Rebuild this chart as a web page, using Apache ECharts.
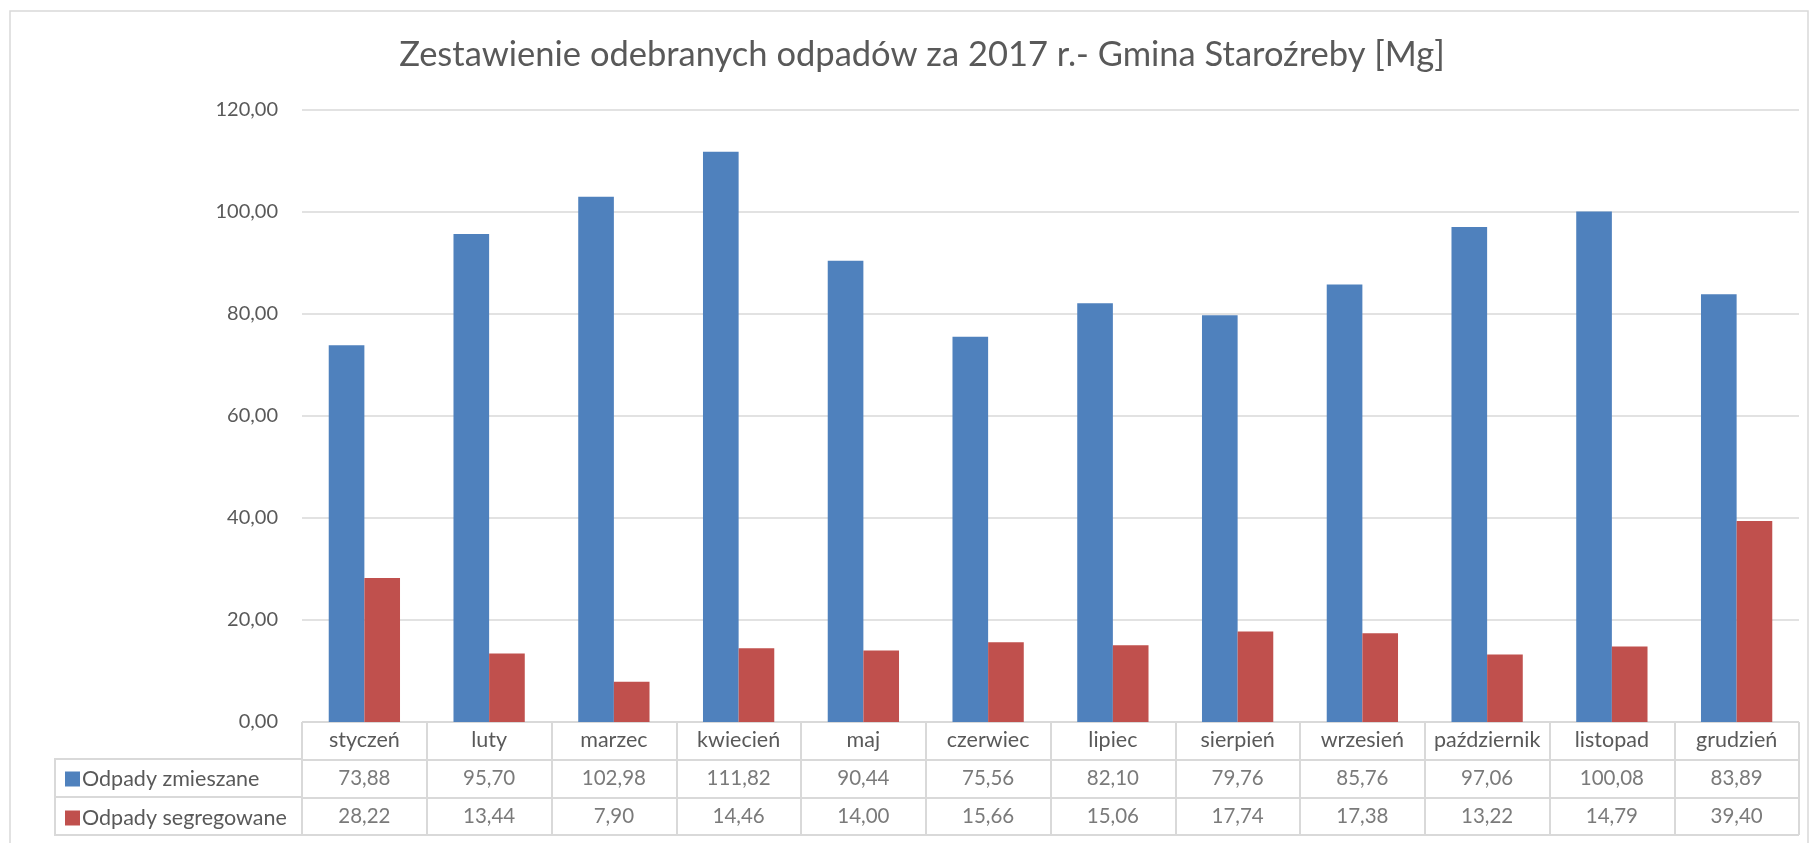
<!DOCTYPE html>
<html><head><meta charset="utf-8">
<script src="https://cdn.jsdelivr.net/npm/echarts@6/dist/echarts.min.js"></script>
<style>html,body{margin:0;padding:0;background:#fff}#c{width:1809px;height:843px}</style>
</head><body><div id="c"></div>
<script>
const titleText = 'Zestawienie odebranych odpadów za 2017 r.- Gmina Staroźreby [Mg]';
const months = ['styczeń','luty','marzec','kwiecień','maj','czerwiec','lipiec','sierpień','wrzesień','październik','listopad','grudzień'];
const seriesNames = ['Odpady zmieszane','Odpady segregowane'];
const zmieszane = [73.88,95.70,102.98,111.82,90.44,75.56,82.10,79.76,85.76,97.06,100.08,83.89];
const segregowane = [28.22,13.44,7.90,14.46,14.00,15.66,15.06,17.74,17.38,13.22,14.79,39.40];
const yTicks = [0,20,40,60,80,100,120];
const tableRows = ['cat','zm','seg'];

const FONT = 'Lato';
const TXT = '#595959';
const LINE = '#D9D9D9';
const fmt = v => v.toFixed(2).replace('.', ',');

const chart = echarts.init(document.getElementById('c'), null, {renderer:'canvas'});

const tableData = [];
zmieszane.forEach((v,i)=>tableData.push([months[i],'zm',fmt(v)]));
segregowane.forEach((v,i)=>tableData.push([months[i],'seg',fmt(v)]));

chart.setOption({
  animation:false,
  backgroundColor:'#fff',
  textStyle:{fontFamily:FONT},
  title:{text:titleText,left:917,textAlign:'center',top:32,
    textStyle:{fontFamily:FONT,fontSize:34.5,fontWeight:'normal',color:TXT}},
  legend:{orient:'vertical',left:60,top:763,itemWidth:15,itemHeight:15,itemGap:17,icon:'rect',
    data:seriesNames,textStyle:{fontFamily:FONT,fontSize:21.5,color:TXT,padding:[0,0,0,-3]},selectedMode:false},
  grid:[
    {left:302,top:110,right:10,bottom:121,containLabel:false},
    {left:302,top:722,right:10,height:113,containLabel:false}
  ],
  xAxis:[
    {type:'category',gridIndex:0,data:months,axisLine:{show:false},axisTick:{show:false},
      axisLabel:{fontFamily:FONT,fontSize:21.5,color:TXT,margin:7,interval:0}},
    {type:'category',gridIndex:1,data:months,axisLine:{show:false},axisTick:{show:false},axisLabel:{show:false},
      splitLine:{show:true,showMinLine:true,showMaxLine:true,lineStyle:{color:LINE,width:2}}}
  ],
  yAxis:[
    {type:'value',gridIndex:0,min:0,max:120,interval:20,
      axisLine:{show:false},axisTick:{show:false},
      axisLabel:{fontFamily:FONT,fontSize:20,color:TXT,margin:24,formatter:v=>fmt(v)},
      splitLine:{show:true,showMinLine:false,lineStyle:{color:LINE,width:1.5}}},
    {type:'category',gridIndex:1,data:tableRows,inverse:true,axisLine:{show:false},axisTick:{show:false},axisLabel:{show:false},
      splitLine:{show:true,showMinLine:true,showMaxLine:true,lineStyle:{color:LINE,width:2}}}
  ],
  series:[
    {name:seriesNames[0],type:'bar',data:zmieszane,barGap:'0%',barCategoryGap:'42.86%',
      itemStyle:{color:'#4F81BD'}},
    {name:seriesNames[1],type:'bar',data:segregowane,barGap:'0%',barCategoryGap:'42.86%',
      itemStyle:{color:'#C0504D'}},
    {type:'scatter',xAxisIndex:1,yAxisIndex:1,data:tableData,symbolSize:0,silent:true,
      label:{show:true,position:'inside',formatter:p=>p.value[2],fontFamily:FONT,fontSize:20.5,color:TXT}}
  ],
  graphic:[
    {type:'rect',shape:{x:10,y:11,width:1798,height:845},style:{fill:null,stroke:LINE,lineWidth:1.5},silent:true},
    {type:'rect',shape:{x:55,y:759,width:247,height:76},style:{fill:null,stroke:LINE,lineWidth:2},silent:true},
    {type:'line',shape:{x1:55,y1:797,x2:302,y2:797},style:{stroke:LINE,lineWidth:2},silent:true}
  ]
});
</script></body></html>
